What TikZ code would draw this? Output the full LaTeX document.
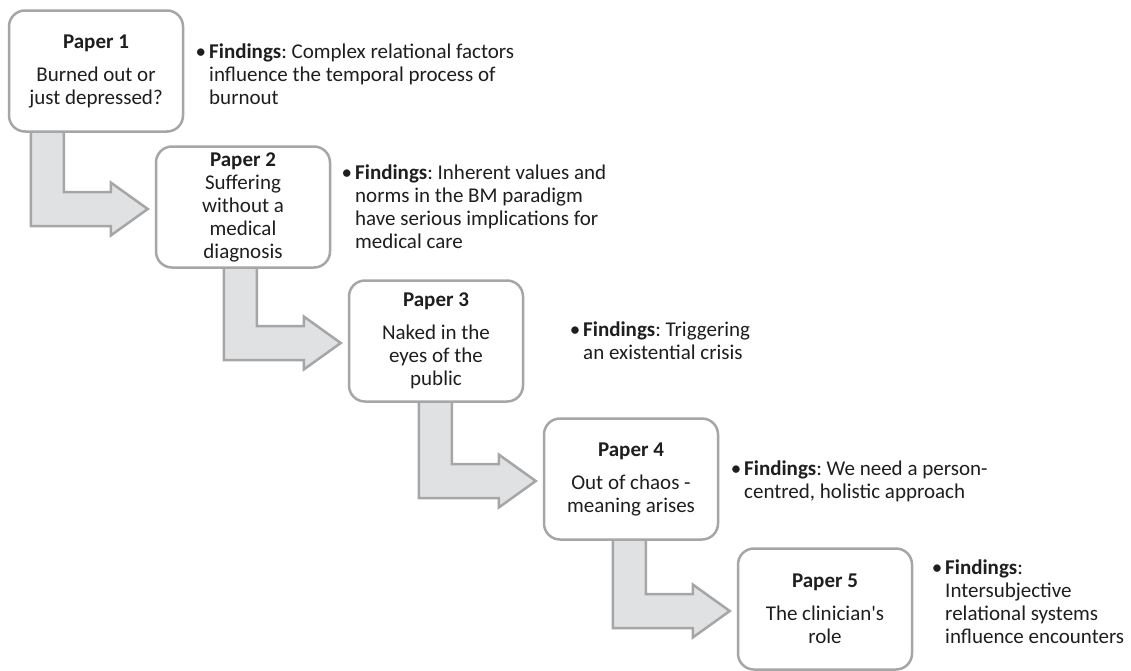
\documentclass[tikz,border=0pt]{standalone}
\usepackage{fontspec}
\setmainfont{Carlito}
\usetikzlibrary{calc,backgrounds}
\definecolor{edgegray}{HTML}{A6A6A6}
\definecolor{arrfill}{HTML}{E0E1E3}
\definecolor{txt}{HTML}{1E1E1E}
\frenchspacing
\tikzset{
  paper/.style={draw=edgegray, line width=2.5pt, rounded corners=16pt, fill=white,
    minimum width=174pt, minimum height=121pt, align=center, text=txt,
    font=\fontsize{21}{23}\selectfont, inner sep=0pt},
  finding/.style={anchor=west, align=left, text=txt,
    font=\fontsize{21}{23}\selectfont, inner sep=0pt},
  bentarrow/.style={draw=edgegray, fill=arrfill, line width=2.5pt, line join=miter}
}
\newcommand\papArrow[2]{%
  \draw[bentarrow] let \p1=($(#2.west)+(-7pt,-2pt)$), \p2=(#1.south) in
    (\x1-117pt,\y2+6pt) -- (\x1-84pt,\y2+6pt) -- (\x1-84pt,\y1+17pt)
    -- (\x1-37pt,\y1+17pt) -- (\x1-37pt,\y1+26.5pt) -- (\p1)
    -- (\x1-37pt,\y1-26.5pt) -- (\x1-37pt,\y1-17pt) -- (\x1-117pt,\y1-17pt) -- cycle;}
\begin{document}
\begin{tikzpicture}[x=1pt,y=-1pt]
\useasboundingbox (0,0) rectangle (1131,670);

\node[paper] (p1) at (96,71) {\textbf{Paper 1}\\[10pt]Burned out or\\just depressed?};
\node[paper] (p2) at (243,207) {\textbf{Paper 2}\\Suffering\\without a\\medical\\diagnosis};
\node[paper] (p3) at (436,341) {\textbf{Paper 3}\\[10pt]Naked in the\\eyes of the\\public};
\node[paper] (p4) at (631,479) {\textbf{Paper 4}\\[10pt]Out of chaos -\\meaning arises};
\node[paper] (p5) at (825,609) {\textbf{Paper 5}\\[10pt]The clinician\textquotesingle s\\role};

\begin{pgfonlayer}{background}
\fill[white] (0,0) rectangle (1131,670);
\papArrow{p1}{p2}
\papArrow{p2}{p3}
\papArrow{p3}{p4}
\papArrow{p4}{p5}
\end{pgfonlayer}

\node[finding] (f1) at (209,74) {\llap{\textbullet\hspace{3pt}}\textbf{Findings}: Complex relational factors\\influence the temporal process of\\burnout};
\node[finding] (f2) at (355,207) {\llap{\textbullet\hspace{3pt}}\textbf{Findings}: Inherent values and\\norms in the BM paradigm\\have serious implications for\\medical care};
\node[finding] (f3) at (583,341) {\llap{\textbullet\hspace{3pt}}\textbf{Findings}: Triggering\\an existential crisis};
\node[finding] (f4) at (744,481) {\llap{\textbullet\hspace{3pt}}\textbf{Findings}: We need a person-\\centred, holistic approach};
\node[finding] (f5) at (945,602) {\llap{\textbullet\hspace{3pt}}\textbf{Findings}:\\Intersubjective\\relational systems\\influence encounters};
\end{tikzpicture}
\end{document}
